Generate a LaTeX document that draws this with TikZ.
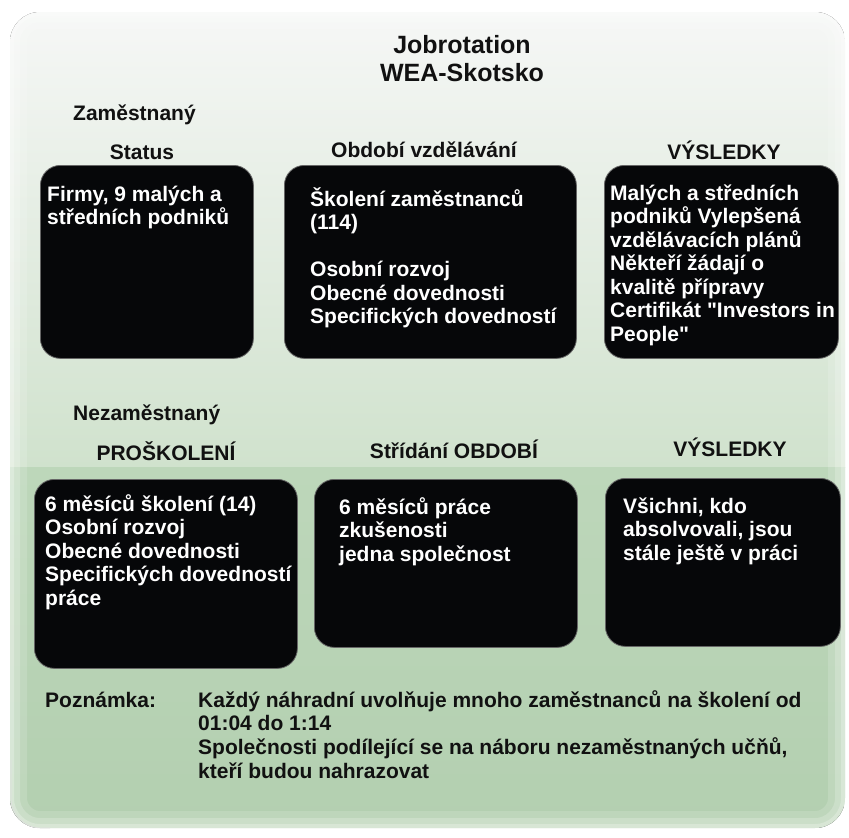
\documentclass[tikz,border=0pt]{standalone}
\usepackage{fontspec}
\setmainfont{Liberation Sans}[Ligatures=TeXOff]
\definecolor{boxblack}{HTML}{060709}
\definecolor{panelTop}{HTML}{F6F7F6}
\definecolor{panelMid}{HTML}{D0E2CD}
\definecolor{panelLow}{HTML}{BDD7BA}
\definecolor{panelBot}{HTML}{B3CFB0}
\definecolor{inkdark}{HTML}{111111}
\begin{document}
\begin{tikzpicture}[x=1pt,y=-1pt,
  blk/.style={fill=boxblack, draw=black!60, line width=0.8pt, rounded corners=20pt, anchor=north west, inner sep=0pt},
  btxt/.style={text=white, font=\bfseries\fontsize{21}{23.5}\selectfont, align=left, anchor=north west, inner sep=0pt},
  hdr/.style={text=inkdark, font=\bfseries\fontsize{21}{24}\selectfont, inner sep=0pt},
  ttl/.style={text=inkdark, font=\bfseries\fontsize{25}{28}\selectfont, inner sep=0pt, anchor=base},
  edge/.style={draw=white, rounded corners=30pt}]
\useasboundingbox (0,0) rectangle (849,838);
% background panel
\begin{scope}
  \clip[rounded corners=30pt] (10,12) rectangle (845,828);
  \fill[top color=panelTop, bottom color=panelMid] (10,12) rectangle (845,467);
  \fill[top color=panelLow, bottom color=panelBot] (10,467) rectangle (845,828);
  \draw[edge, opacity=0.15, line width=34pt] (10,12) rectangle (845,828);
  \draw[edge, opacity=0.2, line width=20pt] (10,12) rectangle (845,828);
  \draw[edge, opacity=0.25, line width=8pt] (10,12) rectangle (845,828);
\end{scope}
\draw[black!12, line width=0.6pt, rounded corners=30pt] (11,760) -- (11,828) -- (50,828);
% title
\node[ttl] (t1) at (462,53) {Jobrotation};
\node[ttl] (t2) at (462,81) {WEA-Skotsko};
% headers
\node[hdr, anchor=base west] (emp) at (73,120) {Zaměstnaný};
\node[hdr, anchor=base] (h1) at (142,159) {Status};
\node[hdr, anchor=base] (h2) at (424,157) {Období vzdělávání};
\node[hdr, anchor=base] (h3) at (724,159) {VÝSLEDKY};
\node[hdr, anchor=base west] (unemp) at (73,420) {Nezaměstnaný};
\node[hdr, anchor=base] (h4) at (166,460) {PROŠKOLENÍ};
\node[hdr, anchor=base] (h5) at (454,458) {Střídání OBDOBÍ};
\node[hdr, anchor=base] (h6) at (730,456) {VÝSLEDKY};
% black boxes
\node[blk, minimum width=213pt, minimum height=193pt] (b1) at (40,165) {};
\node[blk, minimum width=292pt, minimum height=193pt] (b2) at (284,165) {};
\node[blk, minimum width=234pt, minimum height=193pt] (b3) at (604,165) {};
\node[blk, minimum width=263pt, minimum height=189pt] (b4) at (34,479) {};
\node[blk, minimum width=263pt, minimum height=168pt] (b5) at (314,479) {};
\node[blk, minimum width=235pt, minimum height=168pt] (b6) at (605,478) {};
% box texts
\node[btxt] (x1) at (47,181) {\rule{0pt}{20pt}Firmy, 9 malých a\\středních podniků};
\node[btxt] (x2) at (310,186) {\rule{0pt}{20pt}Školení zaměstnanců\\(114)\\[23.5pt]Osobní rozvoj\\Obecné dovednosti\\Specifických dovedností};
\node[btxt] (x3) at (610,180) {\rule{0pt}{20pt}Malých a středních\\podniků Vylepšená\\vzdělávacích plánů\\Někteří žádají o\\kvalitě přípravy\\Certifikát "Investors in\\People"};
\node[btxt] (x4) at (45,491) {\rule{0pt}{20pt}6 měsíců školení (14)\\Osobní rozvoj\\Obecné dovednosti\\Specifických dovedností\\práce};
\node[btxt] (x5) at (339,494) {\rule{0pt}{20pt}6 měsíců práce\\zkušenosti\\jedna společnost};
\node[btxt] (x6) at (623,493) {\rule{0pt}{20pt}Všichni, kdo\\absolvovali, jsou\\stále ještě v práci};
% note
\node[hdr, anchor=base west] (nlab) at (45,707) {Poznámka:};
\node[hdr, align=left, anchor=north west, font=\bfseries\fontsize{21}{23.7}\selectfont] (ntxt) at (198,687) {\rule{0pt}{20pt}Každý náhradní uvolňuje mnoho zaměstnanců na školení od\\01:04 do 1:14\\Společnosti podílející se na náboru nezaměstnaných učňů,\\kteří budou nahrazovat};
\end{tikzpicture}
\end{document}
